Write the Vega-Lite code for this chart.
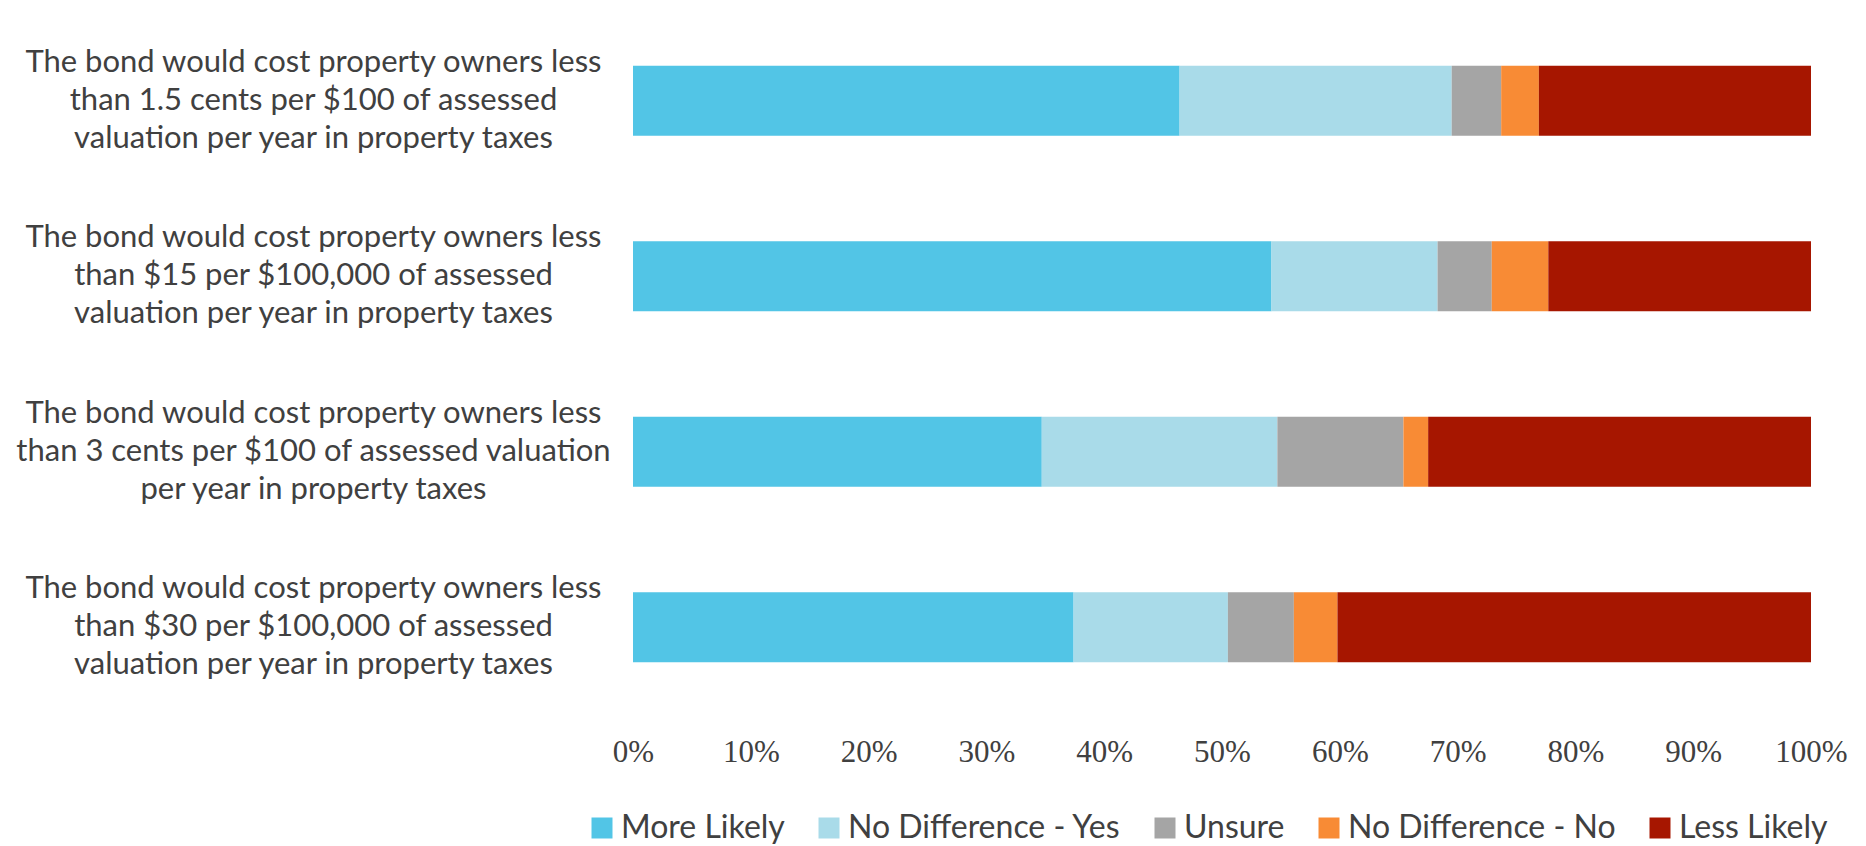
{
  "$schema": "https://vega.github.io/schema/vega-lite/v6.json",
  "width": 1178,
  "height": 702,
  "autosize": {"type": "none"},
  "padding": {"left": 633, "top": 13, "right": 55, "bottom": 131},
  "background": "white",
  "data": {
    "values": [
      {"q": 1, "label": "The bond would cost property owners less|than 1.5 cents per $100 of assessed|valuation per year in property taxes", "resp": "More Likely", "o": 1, "v": 46.4},
      {"q": 1, "label": "The bond would cost property owners less|than 1.5 cents per $100 of assessed|valuation per year in property taxes", "resp": "No Difference - Yes", "o": 2, "v": 23.1},
      {"q": 1, "label": "The bond would cost property owners less|than 1.5 cents per $100 of assessed|valuation per year in property taxes", "resp": "Unsure", "o": 3, "v": 4.2},
      {"q": 1, "label": "The bond would cost property owners less|than 1.5 cents per $100 of assessed|valuation per year in property taxes", "resp": "No Difference - No", "o": 4, "v": 3.2},
      {"q": 1, "label": "The bond would cost property owners less|than 1.5 cents per $100 of assessed|valuation per year in property taxes", "resp": "Less Likely", "o": 5, "v": 23.1},
      {"q": 2, "label": "The bond would cost property owners less|than $15 per $100,000 of assessed|valuation per year in property taxes", "resp": "More Likely", "o": 1, "v": 54.2},
      {"q": 2, "label": "The bond would cost property owners less|than $15 per $100,000 of assessed|valuation per year in property taxes", "resp": "No Difference - Yes", "o": 2, "v": 14.1},
      {"q": 2, "label": "The bond would cost property owners less|than $15 per $100,000 of assessed|valuation per year in property taxes", "resp": "Unsure", "o": 3, "v": 4.6},
      {"q": 2, "label": "The bond would cost property owners less|than $15 per $100,000 of assessed|valuation per year in property taxes", "resp": "No Difference - No", "o": 4, "v": 4.8},
      {"q": 2, "label": "The bond would cost property owners less|than $15 per $100,000 of assessed|valuation per year in property taxes", "resp": "Less Likely", "o": 5, "v": 22.3},
      {"q": 3, "label": "The bond would cost property owners less|than 3 cents per $100 of assessed valuation|per year in property taxes", "resp": "More Likely", "o": 1, "v": 34.7},
      {"q": 3, "label": "The bond would cost property owners less|than 3 cents per $100 of assessed valuation|per year in property taxes", "resp": "No Difference - Yes", "o": 2, "v": 20.0},
      {"q": 3, "label": "The bond would cost property owners less|than 3 cents per $100 of assessed valuation|per year in property taxes", "resp": "Unsure", "o": 3, "v": 10.7},
      {"q": 3, "label": "The bond would cost property owners less|than 3 cents per $100 of assessed valuation|per year in property taxes", "resp": "No Difference - No", "o": 4, "v": 2.1},
      {"q": 3, "label": "The bond would cost property owners less|than 3 cents per $100 of assessed valuation|per year in property taxes", "resp": "Less Likely", "o": 5, "v": 32.5},
      {"q": 4, "label": "The bond would cost property owners less|than $30 per $100,000 of assessed|valuation per year in property taxes", "resp": "More Likely", "o": 1, "v": 37.4},
      {"q": 4, "label": "The bond would cost property owners less|than $30 per $100,000 of assessed|valuation per year in property taxes", "resp": "No Difference - Yes", "o": 2, "v": 13.1},
      {"q": 4, "label": "The bond would cost property owners less|than $30 per $100,000 of assessed|valuation per year in property taxes", "resp": "Unsure", "o": 3, "v": 5.6},
      {"q": 4, "label": "The bond would cost property owners less|than $30 per $100,000 of assessed|valuation per year in property taxes", "resp": "No Difference - No", "o": 4, "v": 3.7},
      {"q": 4, "label": "The bond would cost property owners less|than $30 per $100,000 of assessed|valuation per year in property taxes", "resp": "Less Likely", "o": 5, "v": 40.2}
    ]
  },
  "mark": {"type": "bar"},
  "encoding": {
    "y": {
      "field": "label",
      "type": "nominal",
      "sort": {"field": "q"},
      "scale": {"paddingInner": 0.6, "paddingOuter": 0.3},
      "axis": {
        "title": null,
        "ticks": false,
        "domain": false,
        "labelExpr": "split(datum.label, '|')",
        "labelAlign": "center",
        "labelBaseline": "middle",
        "labelPadding": 320,
        "labelOffset": -38,
        "labelLimit": 0,
        "labelFont": "Lato",
        "labelFontSize": 31,
        "labelLineHeight": 38,
        "labelColor": "#404040"
      }
    },
    "x": {
      "field": "v",
      "type": "quantitative",
      "stack": "normalize",
      "scale": {"domain": [0, 1], "nice": false},
      "axis": {
        "title": null,
        "format": "%",
        "values": [0, 0.1, 0.2, 0.3, 0.4, 0.5, 0.6, 0.7, 0.8, 0.9, 1],
        "labelOverlap": false,
        "labelFlush": false,
        "grid": false,
        "ticks": false,
        "domain": false,
        "labelFont": "Liberation Serif",
        "labelFontSize": 31,
        "labelColor": "#404040",
        "labelPadding": 22
      }
    },
    "order": {"field": "o", "type": "quantitative"},
    "color": {
      "field": "resp",
      "type": "nominal",
      "scale": {
        "domain": ["More Likely", "No Difference - Yes", "Unsure", "No Difference - No", "Less Likely"],
        "range": ["#52C5E6", "#A9DBE9", "#A5A5A5", "#F88B35", "#A61600"]
      },
      "legend": {
        "title": null,
        "orient": "none",
        "direction": "horizontal",
        "legendX": -47,
        "legendY": 799,
        "symbolType": "square",
        "symbolSize": 441,
        "symbolStrokeWidth": 0,
        "labelFont": "Lato",
        "labelFontSize": 32,
        "labelColor": "#404040",
        "labelLimit": 0,
        "columnPadding": 28,
        "labelOffset": 3
      }
    }
  },
  "config": {"view": {"stroke": null}}
}
